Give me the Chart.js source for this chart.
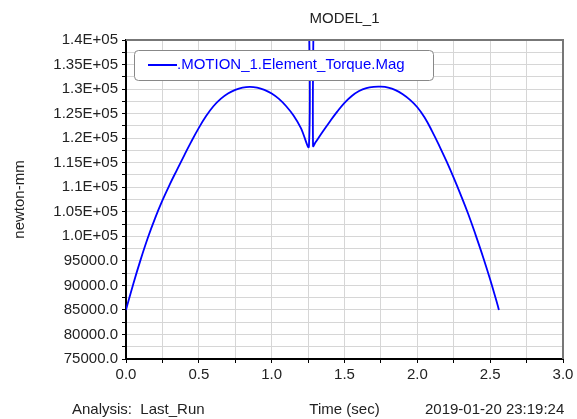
<!DOCTYPE html>
<html>
<head>
<meta charset="utf-8">
<script src="https://cdn.jsdelivr.net/npm/chart.js@4.4.0/dist/chart.umd.min.js"></script>
<style>
  body { margin: 0; background: #fff; }
  #wrap { width: 577px; height: 419px; }
</style>
</head>
<body>
<div id="wrap"><canvas id="myChart" width="577" height="419"></canvas></div>
<script>
// data
var plotTitle = 'MODEL_1';
var seriesLabel = '.MOTION_1.Element_Torque.Mag';
var timeSec = [
  0.00, 0.05, 0.10, 0.15, 0.20, 0.25, 0.30, 0.35, 0.40, 0.45, 0.50, 0.55, 0.60,
  0.65, 0.70, 0.75, 0.80, 0.85, 0.90, 0.95, 1.00, 1.05, 1.10, 1.15, 1.20, 1.256,
  1.256, 1.284,
  1.284, 1.30, 1.35, 1.40, 1.45, 1.50, 1.55, 1.60, 1.65, 1.70, 1.75, 1.80, 1.85,
  1.90, 1.95, 2.00, 2.05, 2.10, 2.15, 2.20, 2.25, 2.30, 2.35, 2.40, 2.45, 2.50, 2.55, 2.56
];
var torque = [
  85000, 90300, 95200, 99700, 103700, 107300, 110550, 113550, 116500, 119400, 122100, 124500, 126500,
  128000, 129100, 129850, 130300, 130450, 130300, 129850, 129100, 128000, 126500, 124600, 122100, 118400,
  160000, 160000,
  118400, 119100, 121300, 123400, 125400, 127200, 128600, 129600, 130200, 130450, 130480, 130300, 129800,
  128950, 127800, 126300, 124200, 121500, 118500, 115300, 111900, 108300, 104500, 100300, 95900, 91200, 86100, 85000
];
var yTickValues = [75000, 80000, 85000, 90000, 95000, 100000, 105000, 110000, 115000, 120000, 125000, 130000, 135000, 140000];
var yTickLabels = ['75000.0', '80000.0', '85000.0', '90000.0', '95000.0', '1.0E+05', '1.05E+05', '1.1E+05', '1.15E+05', '1.2E+05', '1.25E+05', '1.3E+05', '1.35E+05', '1.4E+05'];
var xTickValues = [0, 0.5, 1.0, 1.5, 2.0, 2.5, 3.0];
var xTickLabels = ['0.0', '0.5', '1.0', '1.5', '2.0', '2.5', '3.0'];

var FONT = '"Liberation Sans", Arial, sans-serif';
var TEXT = '#222';

var points = [];
for (var i = 0; i < timeSec.length; i++) {
    points.push({ x: timeSec[i], y: torque[i] });
}

function lookup(values, labels, v) {
    for (var i = 0; i < values.length; i++) {
        if (Math.abs(values[i] - v) < 1e-6) return labels[i];
    }
    return '';
}

// frame, title over the plot, legend box and footer text
var extras = {
    id: 'extras',
    afterDraw: function (chart) {
        var c = chart.ctx;
        var a = chart.chartArea;
        c.save();
        // top and right frame
        c.strokeStyle = '#777';
        c.lineWidth = 2;
        c.beginPath();
        c.moveTo(a.left, a.top);
        c.lineTo(a.right, a.top);
        c.lineTo(a.right, a.bottom);
        c.stroke();

        c.font = '15px ' + FONT;
        c.textBaseline = 'middle';

        // title
        c.fillStyle = TEXT;
        c.textAlign = 'center';
        c.fillText(plotTitle, (a.left + a.right) / 2, 19);

        // legend
        var ds = chart.data.datasets[0];
        c.fillStyle = '#fff';
        c.strokeStyle = '#888';
        c.lineWidth = 1;
        c.beginPath();
        c.roundRect(134.5, 50.5, 299, 30, 4);
        c.fill();
        c.stroke();
        c.strokeStyle = ds.borderColor;
        c.lineWidth = 2;
        c.beginPath();
        c.moveTo(148, 65);
        c.lineTo(177, 65);
        c.stroke();
        c.fillStyle = ds.borderColor;
        c.textAlign = 'left';
        c.fillText(ds.label, 177, 65);

        // footer
        c.fillStyle = TEXT;
        c.fillText('Analysis:  Last_Run', 72, 410);
        c.fillText('2019-01-20 23:19:24', 425, 410);
        c.restore();
    }
};

var ctx = document.getElementById('myChart').getContext('2d');
var chart = new Chart(ctx, {
    type: 'line',
    data: {
        datasets: [{
            label: seriesLabel,
            data: points,
            borderColor: '#0000ff',
            borderWidth: 1.8,
            pointRadius: 0,
            tension: 0.4,
            fill: false
        }]
    },
    options: {
        responsive: false,
        animation: false,
        layout: { padding: { top: 40, right: 14, bottom: 0, left: 0 } },
        plugins: {
            legend: { display: false },
            tooltip: { enabled: false },
            title: { display: false }
        },
        scales: {
            x: {
                type: 'linear',
                min: 0,
                max: 3,
                afterFit: function (s) { s.height = 60; },
                ticks: {
                    stepSize: 0.25,
                    autoSkip: false,
                    maxRotation: 0,
                    padding: 3,
                    color: TEXT,
                    font: { family: FONT, size: 15 },
                    callback: function (v) { return lookup(xTickValues, xTickLabels, v); }
                },
                grid: { color: '#d6d6d6', lineWidth: 1, tickColor: '#000', tickLength: 4 },
                border: { color: '#000', width: 2 },
                title: {
                    display: true,
                    text: 'Time (sec)',
                    color: TEXT,
                    font: { family: FONT, size: 15 },
                    padding: { top: 0, bottom: 0 }
                }
            },
            y: {
                min: 75000,
                max: 140000,
                afterFit: function (s) { s.width = 126; },
                ticks: {
                    stepSize: 2500,
                    autoSkip: false,
                    padding: 4,
                    color: TEXT,
                    font: { family: FONT, size: 15 },
                    callback: function (v) { return lookup(yTickValues, yTickLabels, v); }
                },
                grid: { color: '#d6d6d6', lineWidth: 1, tickColor: '#000', tickLength: 4 },
                border: { color: '#000', width: 2 },
                title: {
                    display: true,
                    text: 'newton-mm',
                    color: TEXT,
                    font: { family: FONT, size: 15 },
                    padding: { top: 11, bottom: 0 }
                }
            }
        }
    },
    plugins: [extras]
});
</script>
</body>
</html>
